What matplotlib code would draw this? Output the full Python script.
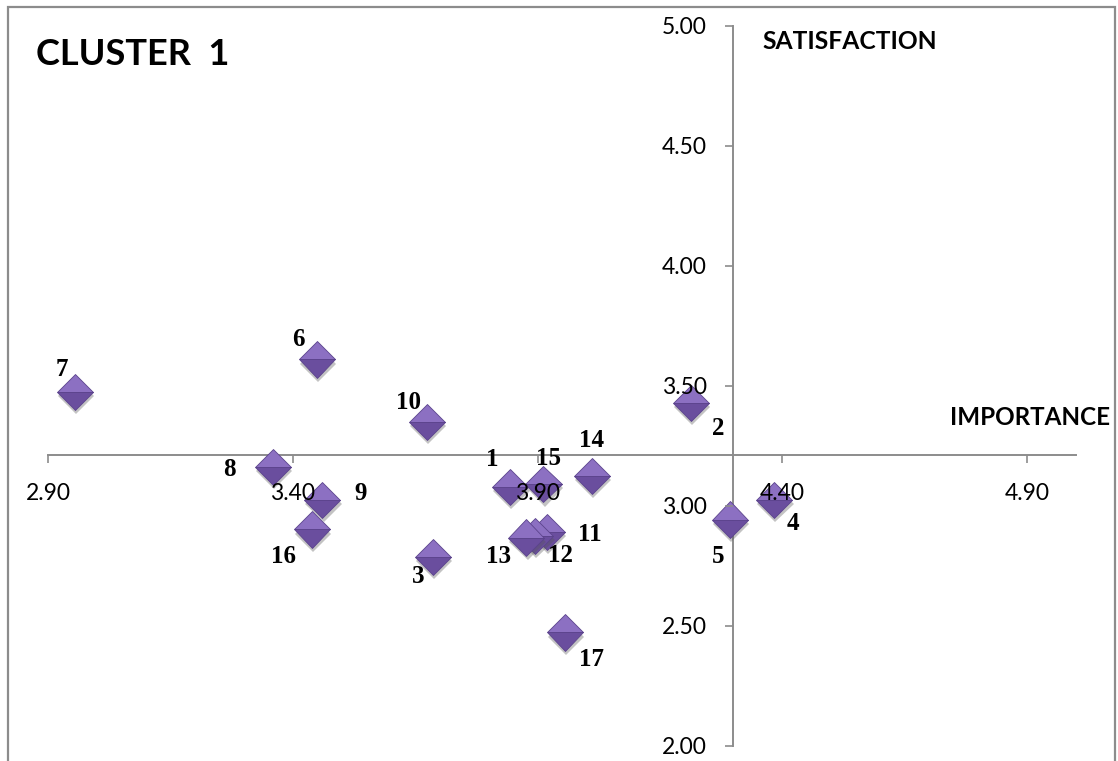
import matplotlib
matplotlib.use('Agg')
import matplotlib.pyplot as plt
import matplotlib.patheffects as pe
from matplotlib.patches import Rectangle

# Data (importance on x, satisfaction on y)
item_labels = [str(i) for i in range(1, 18)]
importance = [3.844, 4.213, 3.686, 4.383, 4.293, 3.449, 2.955, 3.359, 3.460,
              3.674, 3.919, 3.895, 3.877, 4.011, 3.912, 3.439, 3.956]
satisfaction = [3.079, 3.429, 2.788, 3.024, 2.943, 3.610, 3.475, 3.163, 3.024,
                3.350, 2.892, 2.875, 2.868, 3.124, 3.090, 2.902, 2.473]

x_ticks = [2.90, 3.40, 3.90, 4.40, 4.90]
y_ticks = [2.00, 2.50, 3.00, 3.50, 4.00, 4.50, 5.00]

# label offsets in pixels from each point
label_offsets = [(-18, 27), (28, -26), (-15, -20), (19, -23), (-12, -37),
                 (-18, 20), (-13, 22), (-43, -3), (38, 7), (-18, 19),
                 (43, -3), (25, -20), (-28, -19), (0, 36), (5, 26),
                 (-28, -27), (27, -27)]

W, H = 1118, 761
fig = plt.figure(figsize=(W / 100, H / 100), dpi=100)
ax = fig.add_axes([48 / W, 1 - 746 / H, 1028 / W, 720.3 / H])

ax.set_xlim(2.90, 5.00)
ax.set_ylim(2.00, 5.00)

axis_grey = '#8c8c8c'
for s in ['top', 'right']:
    ax.spines[s].set_visible(False)
ax.spines['left'].set_position(('data', 4.30))
ax.spines['bottom'].set_position(('data', 3.21))
for s in ['left', 'bottom']:
    ax.spines[s].set_color(axis_grey)
    ax.spines[s].set_linewidth(1.4)
    ax.spines[s].set_zorder(1)

ax.set_xticks(x_ticks)
ax.set_yticks(y_ticks)
ax.set_xticklabels([f'{v:.2f}' for v in x_ticks])
ax.set_yticklabels([f'{v:.2f}' for v in y_ticks])
ax.tick_params(axis='x', direction='out', length=6, width=1.2, color=axis_grey,
               pad=14, labelsize=16.5, labelcolor='black')
ax.tick_params(axis='y', direction='out', length=6, width=1.2, color=axis_grey,
               pad=13, labelsize=16.5, labelcolor='black')
for lab in ax.get_xticklabels() + ax.get_yticklabels():
    lab.set_fontfamily('Lato')
# tick labels sit above the markers, as in the original
ax.xaxis.set_zorder(4)
ax.yaxis.set_zorder(4)

# points, one by one so later ones sit on top like the original
for i in range(len(importance)):
    ax.plot(importance[i], satisfaction[i], marker='D', markersize=18.5,
            fillstyle='top', markerfacecolor='#8C70C2',
            markerfacecoloralt='#6A4E9E', markeredgecolor='#5B438C',
            markeredgewidth=0.6, linestyle='none', zorder=2 + i * 0.01,
            path_effects=[pe.SimplePatchShadow(offset=(1, -3), shadow_rgbFace='#555555', alpha=0.35),
                          pe.Normal()])
    ax.annotate(item_labels[i], (importance[i], satisfaction[i]),
                xytext=label_offsets[i], textcoords='offset pixels',
                ha='center', va='center', fontsize=18, fontweight='bold',
                fontfamily='Liberation Serif', zorder=5)

fig.text(36 / W, 1 - 65 / H, 'CLUSTER  1', fontsize=26, fontweight='bold',
         fontfamily='Lato', ha='left', va='baseline')
fig.text(762 / W, 1 - 49 / H, 'SATISFACTION', fontsize=17.7, fontweight='bold',
         fontfamily='Lato', ha='left', va='baseline')
fig.text(1110 / W, 1 - 425 / H, 'IMPORTANCE', fontsize=17.4, fontweight='bold',
         fontfamily='Lato', ha='right', va='baseline')

# outer chart border
fig.add_artist(Rectangle((8 / W, -0.05), (1115 - 8) / W, 1 - 7 / H + 0.05,
                         transform=fig.transFigure, fill=False,
                         edgecolor='#8c8c8c', linewidth=1.6, clip_on=False))

fig.savefig('out.png', dpi=100)
